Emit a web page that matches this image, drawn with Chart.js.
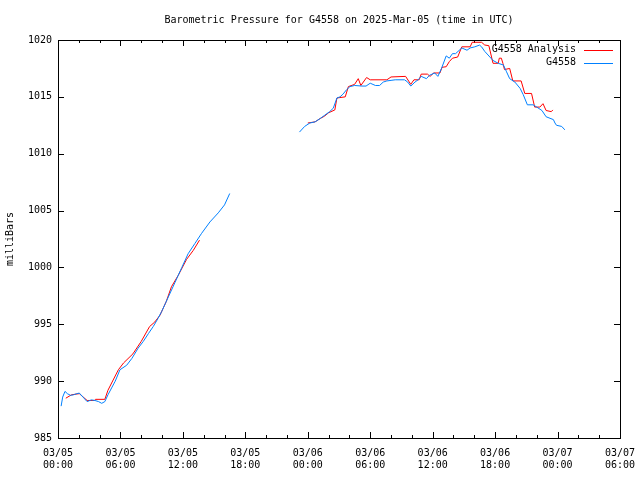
<!DOCTYPE html>
<html>
<head>
<meta charset="utf-8">
<script src="https://cdn.jsdelivr.net/npm/chart.js@4"></script>
<style>
  html, body { margin: 0; padding: 0; background: #fff; }
  #wrap { width: 640px; height: 480px; }
</style>
</head>
<body>
<div id="wrap"><canvas id="pressChart" width="640" height="480"></canvas></div>
<script>
// hours since 2025-03-05 00:00 UTC, null value = data gap
const stationHours = [
  0.3, 0.45, 0.67, 0.9, 1.2, 1.5, 1.8, 2.05, 2.4, 2.8, 3.2, 3.55, 3.9, 4.2, 4.5, 4.8,
  5.15, 5.5, 5.95, 6.6, 7.1, 7.7, 8.2, 8.7, 9.15, 9.6, 9.95, 10.3, 10.6, 11.25, 11.9,
  12.5, 13.15, 13.8, 14.6, 15.4, 16.0, 16.5,
  20,
  23.2, 23.7, 24.2, 24.7, 25.2, 25.65, 26.1, 26.45, 26.8, 27.1, 27.4, 27.7, 28.05, 28.5,
  29.2, 29.6, 30.0, 30.5, 30.9, 31.25, 31.6, 32.0, 32.4, 33.3, 33.6, 33.9, 34.3, 34.6,
  34.9, 35.4, 35.7, 36.2, 36.5, 36.85, 37.3, 37.6, 37.9, 38.2, 38.8, 39.3, 39.6, 40.05,
  40.5, 40.7, 41.0, 41.5, 41.8, 42.3, 42.8, 43.1, 43.4, 43.9, 44.4, 44.7, 45.1, 45.65,
  46.0, 46.5, 46.9, 47.6, 47.75, 47.9, 48.4, 48.7
];
const stationValues = [
  987.8, 988.6, 989.1, 988.9, 988.75, 988.8, 988.9, 988.95, 988.6, 988.2, 988.35, 988.3, 988.2, 988.05, 988.2, 988.8,
  989.4, 990.0, 991.0, 991.4, 992.0, 992.9, 993.5, 994.2, 994.8, 995.5, 996.1, 996.8, 997.4, 998.7, 1000.0,
  1001.2, 1002.1, 1003.0, 1004.0, 1004.8, 1005.5, 1006.5,
  null,
  1011.9, 1012.4, 1012.7, 1012.8, 1013.1, 1013.4, 1013.7, 1014.0, 1014.9, 1015.0, 1015.25, 1015.6, 1015.9, 1016.0,
  1015.95, 1015.95, 1016.2, 1016.0, 1016.0, 1016.3, 1016.4, 1016.45, 1016.5, 1016.5, 1016.3, 1015.95, 1016.3, 1016.5,
  1016.8, 1016.6, 1016.9, 1017.1, 1016.8, 1017.5, 1018.6, 1018.4, 1018.8, 1018.8, 1019.3, 1019.1, 1019.3, 1019.4,
  1019.55, 1019.4, 1019.0, 1018.5, 1018.2, 1017.95, 1017.8, 1017.2, 1016.6, 1016.3, 1015.75, 1015.2, 1014.3, 1014.3,
  1014.1, 1013.8, 1013.25, 1013.0, 1012.7, 1012.5, 1012.4, 1012.1
];
const analysisHours = [
  0.75, 1.3, 2.05, 2.8, 3.5, 3.6, 4.5, 4.8, 5.3, 5.8, 6.3, 7.2, 8.0, 8.8, 9.3, 9.8,
  10.4, 10.9, 11.55, 12.35, 13.0, 13.6,
  20,
  24.0, 24.7, 25.2, 25.6, 26.0, 26.6, 26.8, 27.6, 27.9, 28.5, 28.85, 29.1, 29.65, 30.0,
  31.6, 32.0, 33.4, 33.9, 34.2, 34.7, 34.9, 35.5, 35.75, 36.1, 36.7, 36.9, 37.3, 37.6,
  37.9, 38.4, 38.8, 39.6, 39.8, 40.7, 41.0, 41.4, 41.8, 42.3, 42.4, 42.6, 42.75, 42.9,
  43.4, 43.7, 44.5, 44.85, 45.5, 45.8, 46.3, 46.6, 46.9, 47.4, 47.55
];
const analysisValues = [
  988.5, 988.8, 988.9, 988.3, 988.3, 988.4, 988.4, 989.2, 990.1, 991.0, 991.6, 992.4, 993.5, 994.8, 995.2, 995.8,
  997.0, 998.3, 999.3, 1000.7, 1001.5, 1002.4,
  null,
  1012.7, 1012.8, 1013.1, 1013.3, 1013.6, 1013.85, 1014.9, 1015.0, 1015.9, 1016.1, 1016.6, 1016.0, 1016.7, 1016.5,
  1016.5, 1016.75, 1016.8, 1016.1, 1016.5, 1016.5, 1017.0, 1017.0, 1016.8, 1017.1, 1017.1, 1017.6, 1017.65, 1018.1,
  1018.4, 1018.5, 1019.4, 1019.4, 1019.8, 1019.8, 1019.56, 1019.5, 1017.95, 1017.95, 1018.4, 1018.4, 1017.95, 1017.4,
  1017.5, 1016.4, 1016.4, 1015.3, 1015.3, 1014.1, 1014.1, 1014.4, 1013.8, 1013.7, 1013.85
];
const seriesNames = ['G4558 Analysis', 'G4558'];
const seriesColors = ['#ff0000', '#0080ff'];
const startDay = 5;

function toPoints(hours, values) {
  return hours.map((h, i) => ({ x: h, y: values[i] }));
}

Chart.defaults.font.family = "'DejaVu Sans Mono', monospace";
Chart.defaults.font.size = 10;
Chart.defaults.color = '#000';

// gnuplot-like border, inward ticks and key
const frame = {
  id: 'frame',
  beforeDatasetsDraw(chart) {
    const { ctx, chartArea: a, scales: { x, y } } = chart;
    ctx.save();
    ctx.strokeStyle = '#000';
    ctx.lineWidth = 1;
    ctx.beginPath();
    for (let h = 0; h <= 54; h += 2) {
      const px = Math.round(x.getPixelForValue(h)) + 0.5;
      const len = h % 6 === 0 ? 6 : 3;
      ctx.moveTo(px, a.bottom); ctx.lineTo(px, a.bottom - len);
      ctx.moveTo(px, a.top); ctx.lineTo(px, a.top + len);
    }
    for (let v = 985; v <= 1020; v += 5) {
      const py = Math.round(y.getPixelForValue(v)) + 0.5;
      ctx.moveTo(a.left, py); ctx.lineTo(a.left + 6, py);
      ctx.moveTo(a.right, py); ctx.lineTo(a.right - 6, py);
    }
    ctx.stroke();
    ctx.strokeRect(Math.round(a.left) + 0.5, Math.round(a.top) + 0.5,
      Math.round(a.right - a.left), Math.round(a.bottom - a.top));
    ctx.restore();
  },
  afterDatasetsDraw(chart) {
    const { ctx, chartArea: a } = chart;
    ctx.save();
    ctx.font = "10px 'DejaVu Sans Mono'";
    ctx.textAlign = 'right';
    ctx.textBaseline = 'middle';
    chart.data.datasets.forEach((ds, i) => {
      const yy = a.top + 9.5 + i * 13;
      ctx.fillStyle = '#000';
      ctx.fillText(ds.label, a.right - 44, yy);
      ctx.strokeStyle = ds.borderColor;
      ctx.lineWidth = 1;
      ctx.beginPath();
      ctx.moveTo(a.right - 36, Math.round(yy) + 0.5);
      ctx.lineTo(a.right - 7, Math.round(yy) + 0.5);
      ctx.stroke();
    });
    ctx.restore();
  }
};

new Chart(document.getElementById('pressChart').getContext('2d'), {
  type: 'line',
  data: {
    datasets: [
      {
        label: seriesNames[0],
        data: toPoints(analysisHours, analysisValues),
        borderColor: seriesColors[0],
        borderWidth: 1,
        pointRadius: 0,
        tension: 0,
        spanGaps: false,
        order: 1
      },
      {
        label: seriesNames[1],
        data: toPoints(stationHours, stationValues),
        borderColor: seriesColors[1],
        borderWidth: 1,
        pointRadius: 0,
        tension: 0,
        spanGaps: false,
        order: 0
      }
    ]
  },
  options: {
    responsive: false,
    animation: false,
    layout: { padding: { left: 0, top: 0, right: 20, bottom: 0 } },
    plugins: {
      legend: { display: false },
      tooltip: { enabled: false },
      title: {
        display: true,
        fullSize: false,
        text: 'Barometric Pressure for G4558 on 2025-Mar-05 (time in UTC)',
        font: { size: 10, weight: 'normal' },
        color: '#000',
        padding: { top: 14, bottom: 14 }
      }
    },
    scales: {
      x: {
        type: 'linear',
        min: 0,
        max: 54,
        grid: { display: false, drawTicks: false },
        border: { display: false },
        ticks: {
          stepSize: 6,
          autoSkip: false,
          maxRotation: 0,
          padding: 9,
          callback: v => {
            const day = startDay + Math.floor(v / 24);
            const hr = v % 24;
            return ['03/' + String(day).padStart(2, '0'), String(hr).padStart(2, '0') + ':00'];
          }
        },
        afterFit: s => { s.height = 42; s.paddingLeft = 0; s.paddingRight = 0; }
      },
      y: {
        min: 985,
        max: 1020,
        grid: { display: false, drawTicks: false },
        border: { display: false },
        ticks: { stepSize: 5, padding: 6, callback: v => String(v) },
        title: { display: true, text: 'milliBars', padding: { top: 4, bottom: 0 } },
        afterFit: s => { s.width = 58; }
      }
    }
  },
  plugins: [frame]
});
</script>
</body>
</html>
